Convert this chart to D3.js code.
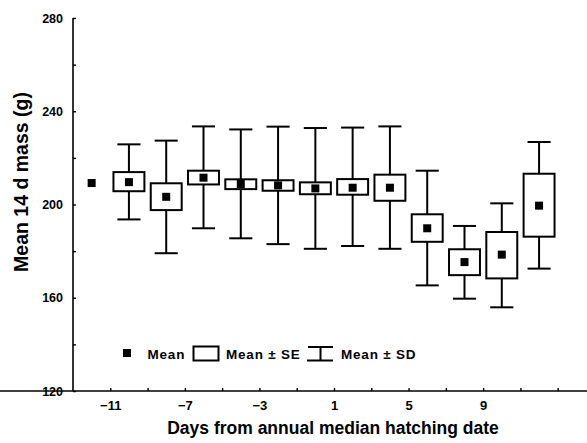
<!DOCTYPE html>
<html><head><meta charset="utf-8">
<script src="https://cdn.jsdelivr.net/npm/d3@7"></script>
<style>body{margin:0;background:#fff}svg{display:block}text{font-family:"Liberation Sans",Arial,sans-serif;font-weight:bold;fill:#000}</style>
</head><body><svg id="c" width="587" height="443"></svg>
<script>
const days    = [-12, -10, -8, -6, -4, -2, 0, 2, 4, 6, 8, 10, 12];
const means   = [209.2, 209.6, 203.3, 211.5, 208.8, 208.2, 206.9, 207.2, 207.2, 189.8, 175.3, 178.5, 199.5];
const seLow   = [null, 205.7, 197.6, 208.6, 206.6, 205.9, 204.4, 204.2, 201.6, 184.0, 169.7, 168.3, 186.2];
const seHigh  = [null, 213.9, 209.1, 214.5, 210.8, 210.4, 209.5, 210.9, 212.8, 195.8, 180.8, 188.2, 213.2];
const sdLow   = [null, 193.6, 179.1, 189.8, 185.5, 183.0, 181.0, 182.2, 181.0, 165.3, 159.6, 155.9, 172.5];
const sdHigh  = [null, 225.8, 227.4, 233.5, 232.2, 233.4, 232.8, 233.0, 233.5, 214.5, 190.8, 200.5, 226.8];
const xTicks  = [-11, -9, -7, -5, -3, -1, 1, 3, 5, 7, 9, 11, 13];
const xLabels = [-11, -7, -3, 1, 5, 9];
const yTicks  = [120, 140, 160, 180, 200, 220, 240, 260, 280];
const yLabels = [120, 160, 200, 240, 280];
const legendItems = ["Mean", "Mean \u00b1 SE", "Mean \u00b1 SD"];

const svg = d3.select("#c");
const x = d3.scaleLinear().domain([-13, 15]).range([73, 595]);
const y = d3.scaleLinear().domain([120, 280]).range([391, 18]);

const data = days.map((d, i) => ({d, m: means[i], sl: seLow[i], sh: seHigh[i], dl: sdLow[i], dh: sdHigh[i]}));

// axes
const gx = svg.append("g").attr("transform", `translate(0,${y(120)})`)
  .call(d3.axisBottom(x).tickValues(xTicks).tickSize(-3).tickPadding(10)
    .tickFormat(v => xLabels.includes(v) ? d3.format("")(v).replace("-", "\u2013") : ""));
const gy = svg.append("g").attr("transform", `translate(${x(-13)},0)`)
  .call(d3.axisLeft(y).tickValues(yTicks).tickSize(-3).tickPadding(10)
    .tickFormat(v => yLabels.includes(v) ? v : ""));
[gx, gy].forEach(g => {
  g.select(".domain").attr("stroke", "#000").attr("stroke-width", 1.6);
  g.selectAll(".tick line").attr("stroke", "#000").attr("stroke-width", 1.4);
  g.selectAll("text").attr("font-family", "Liberation Sans, Arial, sans-serif").attr("font-weight", "bold").attr("fill", "#000");
});
gx.selectAll("text").attr("font-size", 13);
gy.selectAll("text").attr("font-size", 12.5);
gy.select(".domain").attr("d", `M0,${y(280)}V${y(120)}`);
gx.select(".domain").attr("d", `M0,0H${x(15)}`);

const capHalf = x(0.62) - x(0);
const boxHalf = x(0.83) - x(0);
const ms = 8;

const g = svg.append("g");
const full = data.filter(p => p.dl != null);
// whiskers
g.selectAll("line.w").data(full).join("line").attr("class", "w")
  .attr("x1", p => x(p.d)).attr("x2", p => x(p.d))
  .attr("y1", p => y(p.dh)).attr("y2", p => y(p.dl))
  .attr("stroke", "#000").attr("stroke-width", 2);
g.selectAll("line.ct").data(full).join("line").attr("class", "ct")
  .attr("x1", p => x(p.d) - capHalf).attr("x2", p => x(p.d) + capHalf)
  .attr("y1", p => y(p.dh)).attr("y2", p => y(p.dh))
  .attr("stroke", "#000").attr("stroke-width", 2);
g.selectAll("line.cb").data(full).join("line").attr("class", "cb")
  .attr("x1", p => x(p.d) - capHalf).attr("x2", p => x(p.d) + capHalf)
  .attr("y1", p => y(p.dl)).attr("y2", p => y(p.dl))
  .attr("stroke", "#000").attr("stroke-width", 2);
// SE boxes
g.selectAll("rect.b").data(full).join("rect").attr("class", "b")
  .attr("x", p => x(p.d) - boxHalf).attr("width", 2 * boxHalf)
  .attr("y", p => y(p.sh)).attr("height", p => y(p.sl) - y(p.sh))
  .attr("fill", "#fff").attr("stroke", "#000").attr("stroke-width", 2);
// means
g.selectAll("rect.m").data(data).join("rect").attr("class", "m")
  .attr("x", p => x(p.d) - ms / 2).attr("y", p => y(p.m) - ms / 2)
  .attr("width", ms).attr("height", ms).attr("fill", "#000");

// legend
const lg = svg.append("g");
const ly = 353;
lg.append("rect").attr("x", 127 - ms / 2).attr("y", ly - ms / 2).attr("width", ms).attr("height", ms).attr("fill", "#000");
lg.append("rect").attr("x", 193.5).attr("y", 346.5).attr("width", 25).attr("height", 14)
  .attr("fill", "#fff").attr("stroke", "#000").attr("stroke-width", 2);
lg.append("path").attr("d", "M308,347H333M320.5,347V360.5M307,360.5H333")
  .attr("fill", "none").attr("stroke", "#000").attr("stroke-width", 2);
const lx = [147.5, 226, 341];
lg.selectAll("text").data(legendItems).join("text")
  .attr("x", (t, i) => lx[i]).attr("y", 358.5).attr("font-size", 13.5).attr("letter-spacing", 0.8)
  .text(t => t);

// titles
svg.append("text").attr("transform", "translate(28,182) rotate(-90)")
  .attr("text-anchor", "middle").attr("font-size", 19.5).text("Mean 14 d mass (g)");
svg.append("text").attr("x", 333).attr("y", 434)
  .attr("text-anchor", "middle").attr("font-size", 17.5).text("Days from annual median hatching date");
</script></body></html>
